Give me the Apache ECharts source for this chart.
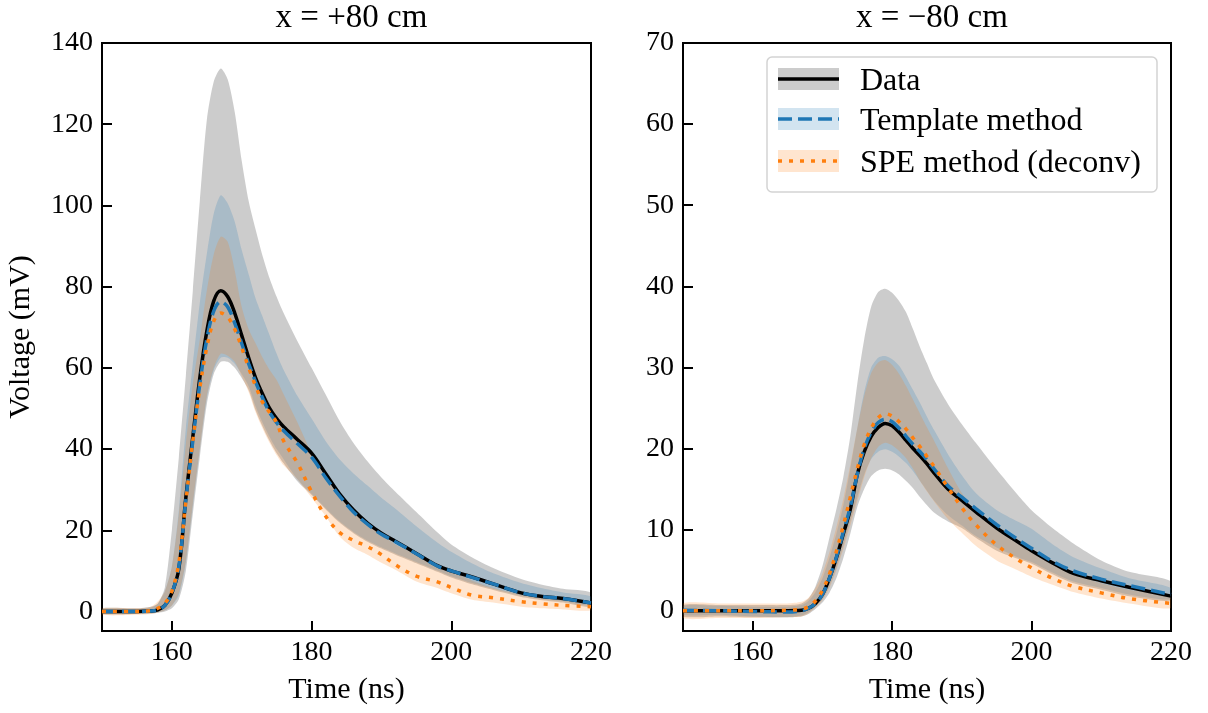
<!DOCTYPE html>
<html>
<head>
<meta charset="utf-8">
<script src="https://cdn.jsdelivr.net/npm/echarts@6/dist/echarts.min.js"></script>
<style>
html, body { margin: 0; padding: 0; background: #fff; }
#chart { width: 1208px; height: 713px; }
</style>
</head>
<body>
<div id="chart"></div>
<script>
// ---- x = +80 cm : average waveform and 1-sigma bands (mV vs ns) ----
const LT = [150,155,157,158,159,160,161,162,163,164,165,166,167,168,169,170,171,172,173,174,175,176,178,180,182,184,186,188,190,192,195,198,200,203,206,210,213,216,220];
const L_data   = [0,0,0.1,0.4,1.5,4.5,10.5,28,43,57.5, 69,76.5,79,77.5,73.5,68,62.5,57.5,53.5,50,47.5,45.5, 42.3,39,34,29,25,21.8,19.3,17.3, 14.3,11.3,10,8.5,6.8,4.6,3.7,3.2,2.1];
const L_dataLo = [-0.6,-0.6,-0.5,-0.3,0,0.8,3,10,24,38, 51,58.5,61.5,61.5,60,57.5,54.5,49.5,45.5,42,39,36.5, 32,28.7,25.2,21.9,19.3,17.2,15.5,14, 11.9,9.8,8.4,6.7,5.3,3.6,2.8,2.2,1.2];
const L_dataHi = [0.8,0.8,1.2,2,6,20,38,58,79,101, 121,130.5,133.7,131,123,111,101,94,87.5,82,77.5,73.5, 66.5,60,53.5,47,41.5,37,33,29.5, 24.5,19.5,16.5,13.3,10.7,8,6.6,5.6,4.6];
const L_tmpl   = [0,0,0.1,0.4,1.5,4.5,11,27.5,42,56, 67,74,76.3,75,71,66,61,56.5,52.5,49,46.5,44.5, 41.3,38,33,28.5,24.5,21.5,19,17.2, 14.2,11.2,10,8.4,6.8,4.6,3.7,3.2,2.1];
const L_tmplLo = [-0.5,-0.5,-0.4,-0.2,0.3,1.5,4,12,26,40, 52.5,59.5,62.5,62.5,61,58.5,55.5,50.5,46.5,43,40,37.5, 32.5,29,25.5,22.2,19.6,17.5,15.8,14.3, 12.2,10.1,8.7,7,5.6,3.9,3.1,2.5,1.5];
const L_tmplHi = [0.6,0.6,1,2,5,11,25,45,61,76, 88,98,102.5,100.5,96,89,83,77,72.5,68,63.5,59.5, 53,47.5,42,37.5,34,31,28,25.3, 21,17,14.7,11.8,9.4,7,5.7,4.7,3.7];
const L_spe    = [0,0,0.2,0.8,2,5,12,27,42,55, 65,71.5,73.5,72.5,69.5,65,60,55.5,51.5,49,46.5,42, 36.5,29.5,23.5,19.5,17.5,16,14,11.5, 8.7,7.3,5.9,4,3.4,2.4,1.9,1.5,1.2];
const L_speLo  = [-0.8,-0.8,-0.6,-0.3,0.3,1.5,4.5,12.5,26.5,40, 53,60,63.5,63,61.5,58,54,49,45,41.5,38.5,36, 32.5,28,23.5,18.5,15.7,14,12,10.3, 7.4,5.8,4.5,2.9,2.2,1.2,0.8,0.5,0.3];
const L_speHi  = [0.8,0.8,1.2,2.5,5,11,24,41,56,67, 79,88,92.3,91,84,75,69.5,66,62.5,59.5,57,53.5, 46.5,39,33,28.5,25,22,19,16.5, 14,11.5,10,7.6,5.8,4.2,3.3,2.8,2.3];

// ---- x = -80 cm ----
const RT = [150,155,160,165,167,168,169,170,171,172,173,174,175,176,177,178,179,180,181,182,183,184,185,186,188,190,192,195,198,200,203,206,210,214,220];
const R_data   = [0,0,0,0,0.05, 0.3,0.9,2,4,6.5,9.5,12.5,16.8,19.6,21.5,22.6,23.1,22.8,22,21,20,19.1,18.1,17, 15,13.6,12.2,10.2,8.5,7.4,5.9,4.6,3.7,2.9,1.8];
const R_dataLo = [-0.7,-0.7,-0.8,-0.8,-0.7, -0.4,0.2,1,2.2,4,6.5,9.5,12.8,15,16.6,17.3,17.5,17.3,16.8,16,15.1,14,13,12.1, 11,10.2,9,7.4,6.4,5.8,4.5,3.4,2.6,1.8,1.3];
const R_dataHi = [0.7,0.7,0.7,0.7,0.9, 1.5,3,5.5,9,12.5,16.5,21.5,28,33.5,37.5,39.3,39.7,39.2,38.2,36.8,34.7,32.5,30.5,28.5, 25.5,23,20.7,17.4,14.3,12.4,10.2,8.3,6.2,4.8,3.6];
const R_tmpl   = [0.05,0,-0.1,-0.15,0, 0.3,0.9,2,4,6.6,9.7,12.8,16.8,20,22,23.2,23.6,23.3,22.5,21.5,20.5,19.6,18.6,17.5, 15.4,14,12.6,10.6,8.8,7.7,6.1,4.9,3.9,3.1,2.0];
const R_tmplLo = [-0.5,-0.5,-0.7,-0.8,-0.6, -0.2,0.5,1.4,3,5.2,8,11,14,16.8,18.7,19.6,19.9,19.6,19,18.2,17.2,16,14.8,13.6, 11.8,10.5,9.2,7.8,6.6,6.0,4.7,3.6,2.8,2.0,1.4];
const R_tmplHi = [0.6,0.6,0.5,0.5,0.7, 1.2,2.3,4,6.5,9.5,13,17.5,22.5,27,30,31.2,31.4,31,30.2,28.8,27.2,25.6,23.9,22.3, 19.3,16.7,14.5,12.4,11,10.1,8.2,6.6,5.2,4,2.8];
const R_spe    = [0,0,0,0.05,0.2, 0.5,1.2,2.5,4.5,7.3,10.5,14,17.5,20.5,22.5,23.8,24.3,24,23.3,22.4,21.3,20.2,19,17.8, 15.2,12.7,10.6,8.1,6.3,5.3,4,3.0,2.2,1.5,0.9];
const R_speLo  = [-0.9,-0.9,-0.9,-0.8,-0.7, -0.3,0.4,1.3,2.8,5,7.6,10.5,13.5,16.5,18.8,20.2,20.7,20.4,19.7,18.8,17.5,16,14.7,13.5, 11.3,9.6,8,6.2,5,4.2,3.2,2.3,1.5,0.9,0.3];
const R_speHi  = [0.9,0.9,0.9,0.9,1.1, 1.6,2.8,4.6,7.2,10.3,13.8,18,22.5,26.5,29.3,30.6,30.9,30.3,29.2,27.7,26,24.3,22.6,21, 17.6,14.5,12.2,10,8.4,7.2,5.8,4.6,3.4,2.6,1.7];

// ---- axes and labels ----
const TITLES = ['x = +80 cm', 'x = \u221280 cm'];
const X_TICKS = [160, 180, 200, 220];
const Y_TICKS_L = [0, 20, 40, 60, 80, 100, 120, 140];
const Y_TICKS_R = [0, 10, 20, 30, 40, 50, 60, 70];
const LEGEND_NAMES = ['Data', 'Template method', 'SPE method (deconv)'];

const FONT = 'Liberation Serif';
const C_DATA = '#000000', C_TMPL = '#1f77b4', C_SPE = '#ff7f0e';
const F_DATA = 'rgba(0,0,0,0.2)', F_TMPL = 'rgba(31,119,180,0.2)', F_SPE = 'rgba(255,127,14,0.2)';
const SM = 0.35;
const LW = 3.5;
const DASH = [14, 6];
const DOT = [4, 7];

const pairs = (t, v) => t.map((x, i) => [x, v[i]]);

// shaded band between lo and hi, drawn as one smoothed polygon in data coordinates
function band(key, ax, t, lo, hi, fill) {
  const rows = t.map((x, i) => [x, lo[i], hi[i]]);
  return {
    type: 'custom', name: key, xAxisIndex: ax, yAxisIndex: ax, silent: true, z: 1,
    clip: true,
    encode: { x: 0, y: [1, 2] },
    data: rows,
    renderItem: function (params, api) {
      if (params.dataIndex !== 0) return null;
      const upper = rows.map(r => api.coord([r[0], r[2]]));
      const lower = rows.map(r => api.coord([r[0], r[1]])).reverse();
      return {
        type: 'polygon',
        shape: { points: upper.concat(lower), smooth: 0.25 },
        style: { fill: fill, stroke: null }
      };
    }
  };
}

function curve(name, ax, t, v, color, type) {
  return {
    type: 'line', name, xAxisIndex: ax, yAxisIndex: ax, data: pairs(t, v),
    symbol: 'none', smooth: SM, silent: true, z: 3,
    lineStyle: { color, width: LW, type: type || 'solid', cap: 'butt' }
  };
}

function panelSeries(ax, t, d, dLo, dHi, m, mLo, mHi, s, sLo, sHi) {
  return [
    band('dataBand' + ax, ax, t, dLo, dHi, F_DATA),
    band('tmplBand' + ax, ax, t, mLo, mHi, F_TMPL),
    band('speBand' + ax, ax, t, sLo, sHi, F_SPE),
    curve(LEGEND_NAMES[0] + ax, ax, t, d, C_DATA),
    curve(LEGEND_NAMES[1] + ax, ax, t, m, C_TMPL, DASH),
    curve(LEGEND_NAMES[2] + ax, ax, t, s, C_SPE, DOT)
  ];
}

const txt = { fontFamily: FONT, color: '#000' };

function xAxisCfg(grid) {
  return {
    type: 'value', gridIndex: grid, min: 150, max: 220,
    name: 'Time (ns)', nameLocation: 'middle', nameGap: 44,
    nameTextStyle: Object.assign({ fontSize: 30 }, txt),
    axisLine: { show: true, onZero: false, lineStyle: { color: '#000', width: 2 } },
    axisTick: { show: true, inside: true, length: 10, customValues: X_TICKS, lineStyle: { color: '#000', width: 2 } },
    axisLabel: Object.assign({ fontSize: 28, margin: 8, customValues: X_TICKS }, txt),
    splitLine: { show: false }
  };
}

function yAxisCfg(grid, min, max, ticks, withName) {
  const cfg = {
    type: 'value', gridIndex: grid, min, max,
    axisLine: { show: true, onZero: false, lineStyle: { color: '#000', width: 2 } },
    axisTick: { show: true, inside: true, length: 10, customValues: ticks, lineStyle: { color: '#000', width: 2 } },
    axisLabel: Object.assign({ fontSize: 28, margin: 9, customValues: ticks }, txt),
    splitLine: { show: false }
  };
  if (withName) {
    Object.assign(cfg, {
      name: 'Voltage (mV)', nameLocation: 'middle', nameGap: 66,
      nameTextStyle: Object.assign({ fontSize: 30 }, txt)
    });
  }
  return cfg;
}

// legend drawn as a framed box in the right panel
const LEG = { x: 767, y: 57, w: 390, h: 135, rows: [79, 119, 161], hx: 778, hw: 61, hh: 22, tx: 860 };
const legendFills = [F_DATA, F_TMPL, F_SPE];
const legendColors = [C_DATA, C_TMPL, C_SPE];
const legendDash = ['solid', DASH, DOT];
const legendGraphic = [{
  type: 'rect', shape: { x: LEG.x, y: LEG.y, width: LEG.w, height: LEG.h, r: 5 },
  style: { fill: 'rgba(255,255,255,0.85)', stroke: '#d3d3d3', lineWidth: 1.5 }, z: 50
}];
LEGEND_NAMES.forEach((name, i) => {
  const cy = LEG.rows[i];
  legendGraphic.push({
    type: 'rect', shape: { x: LEG.hx, y: cy - LEG.hh / 2, width: LEG.hw, height: LEG.hh },
    style: { fill: legendFills[i] }, z: 51
  });
  legendGraphic.push({
    type: 'line', shape: { x1: LEG.hx, y1: cy, x2: LEG.hx + LEG.hw, y2: cy },
    style: { stroke: legendColors[i], lineWidth: LW, lineDash: legendDash[i] === 'solid' ? null : legendDash[i], lineCap: 'butt' }, z: 52
  });
  legendGraphic.push({
    type: 'text', x: LEG.tx, y: cy + 3,
    style: { text: name, fontFamily: FONT, fontSize: 32, fill: '#000', verticalAlign: 'middle' }, z: 52
  });
});

const option = {
  backgroundColor: '#fff',
  animation: false,
  title: [
    { text: TITLES[0], left: 346.5, top: -3, textAlign: 'center', textStyle: Object.assign({ fontSize: 33, fontWeight: 'normal' }, txt) },
    { text: TITLES[1], left: 927, top: -3, textAlign: 'center', textStyle: Object.assign({ fontSize: 33, fontWeight: 'normal' }, txt) }
  ],
  grid: [
    { left: 102, top: 43, width: 489, height: 588, show: true, borderColor: '#000', borderWidth: 2, backgroundColor: 'transparent' },
    { left: 683, top: 43, width: 488, height: 588, show: true, borderColor: '#000', borderWidth: 2, backgroundColor: 'transparent' }
  ],
  xAxis: [xAxisCfg(0), xAxisCfg(1)],
  yAxis: [yAxisCfg(0, -4.8, 140, Y_TICKS_L, true), yAxisCfg(1, -2.5, 70, Y_TICKS_R, false)],
  series: [].concat(
    panelSeries(0, LT, L_data, L_dataLo, L_dataHi, L_tmpl, L_tmplLo, L_tmplHi, L_spe, L_speLo, L_speHi),
    panelSeries(1, RT, R_data, R_dataLo, R_dataHi, R_tmpl, R_tmplLo, R_tmplHi, R_spe, R_speLo, R_speHi)
  ),
  graphic: legendGraphic
};

const chart = echarts.init(document.getElementById('chart'), null, { renderer: 'canvas' });
chart.setOption(option);
</script>
</body>
</html>
